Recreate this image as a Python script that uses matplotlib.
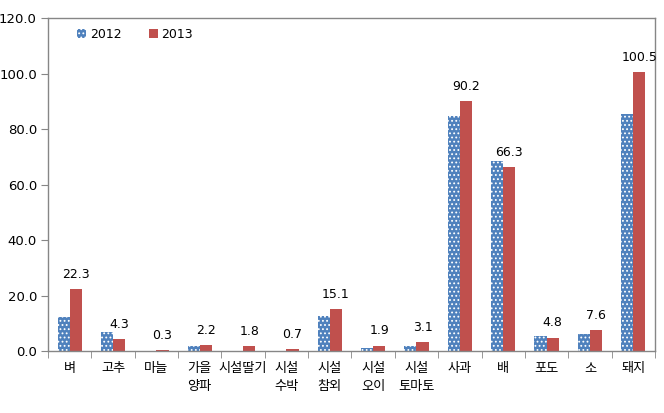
import numpy as np
import matplotlib
matplotlib.use('Agg')
import matplotlib.pyplot as plt

plt.rcParams['font.family'] = ['Noto Sans CJK KR', 'DejaVu Sans']
plt.rcParams['hatch.linewidth'] = 0.8

# 품목별 값
categories = ['벼', '고추', '마늘', '가을\n양파', '시설딸기', '시설\n수박', '시설\n참외',
              '시설\n오이', '시설\n토마토', '사과', '배', '포도', '소', '돼지']
vals_2012 = [12.3, 6.8, 0.0, 2.0, 0.0, 0.0, 12.6, 1.0, 1.8, 84.7, 68.6, 5.5, 6.0, 85.4]
vals_2013 = [22.3, 4.3, 0.3, 2.2, 1.8, 0.7, 15.1, 1.9, 3.1, 90.2, 66.3, 4.8, 7.6, 100.5]
yticks = [0, 20, 40, 60, 80, 100, 120]

blue = '#4F81BD'
red = '#C0504D'
grey = '#868686'

fig = plt.figure(figsize=(6.64, 4.13), dpi=100)
ax = fig.add_axes([0.0723, 0.150, 0.914, 0.806])

n = len(categories)
x = np.arange(n)
w = 0.28

ax.bar(x - w / 2, vals_2012, w, color=blue, edgecolor='white', linewidth=0,
       hatch='....', label='2012')
ax.bar(x + w / 2, vals_2013, w, color=red, linewidth=0, label='2013')

for xi, v in zip(x, vals_2013):
    ax.text(xi + w / 2, v + 3.0, '%.1f' % v, ha='center', va='bottom', fontsize=9,
            family=['DejaVu Sans'])

ax.set_xlim(-0.5, n - 0.5)
ax.set_ylim(0, 120)
ax.set_yticks(yticks)
ax.set_yticklabels(['%.1f' % t for t in yticks], fontsize=9.5, family=['DejaVu Sans'])
ax.set_xticks(x)
ax.set_xticklabels(categories, fontsize=9.5, linespacing=1.5, va='top')
ax.set_xticks(np.arange(-0.5, n, 1), minor=True)
ax.tick_params(axis='x', which='major', length=0, pad=8)
ax.tick_params(axis='x', which='minor', length=5, color=grey, direction='out')
ax.tick_params(axis='y', length=5, color=grey, direction='out', pad=3)

for s in ax.spines.values():
    s.set_color(grey)
    s.set_linewidth(1)

leg = ax.legend(loc='upper left', bbox_to_anchor=(0.03, 1.005), ncol=2, frameon=False,
                handlelength=0.7, handleheight=0.7, columnspacing=2.2,
                handletextpad=0.3, prop={'family': 'DejaVu Sans', 'size': 9})

fig.savefig('out.png', dpi=100)
